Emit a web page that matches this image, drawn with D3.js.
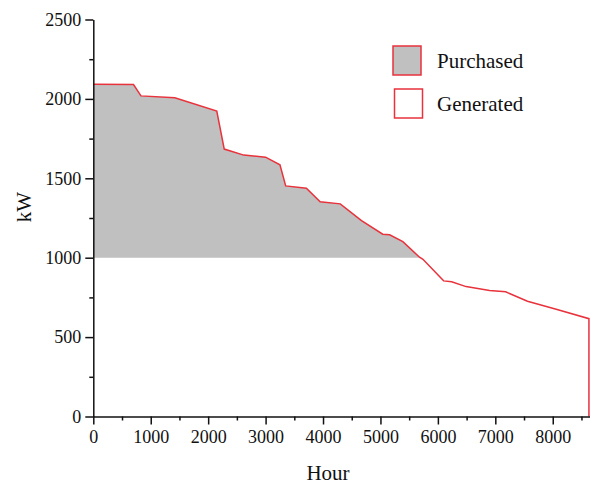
<!DOCTYPE html>
<html>
<head>
    <title>Purchased vs generated load</title>
    <script src="https://cdnjs.cloudflare.com/ajax/libs/d3/7.8.5/d3.min.js"></script>
    <style>
        body { margin: 0; background: #fff; }
        text { font-family: "Liberation Serif", "Times New Roman", serif; fill: #111; }
    </style>
</head>
<body>
    <div id="vis"></div>

    <script>
        // load duration curve
        var hours = [0, 700, 830, 1420, 2150, 2280, 2620, 3000, 3250, 3350, 3710, 3950, 4300,
                     4670, 5040, 5160, 5390, 5680, 5740, 6100, 6240, 6490, 6900, 7180, 7560, 8060, 8630];
        var loadKW = [2092, 2090, 2019, 2007, 1923, 1684, 1646, 1633, 1585, 1452, 1438, 1352, 1339,
                      1234, 1148, 1144, 1101, 1003, 990, 854, 849, 818, 793, 785, 726, 675, 616];
        var generatedCap = 1000;
        var xTicks = [0, 1000, 2000, 3000, 4000, 5000, 6000, 7000, 8000];
        var xMinor = [500, 1500, 2500, 3500, 4500, 5500, 6500, 7500, 8500];
        var yTicks = [0, 500, 1000, 1500, 2000, 2500];
        var yMinor = [250, 750, 1250, 1750, 2250];
        var legendNames = ["Purchased", "Generated"];
        var legendFills = ["#c0c0c0", "#ffffff"];

        var W = 590, H = 485;
        var red = "#e8323c";

        var svg = d3.select("#vis").append("svg")
            .attr("width", W)
            .attr("height", H);

        var x = d3.scaleLinear().domain([0, 8640]).range([93.3, 589.5]);
        var y = d3.scaleLinear().domain([0, 2500]).range([416.5, 19.5]);

        var pts = hours.map(function(h, i) { return [h, loadKW[i]]; });

        // purchased part = everything above the generated cap
        var area = d3.area()
            .x(function(d) { return x(d[0]); })
            .y0(y(generatedCap))
            .y1(function(d) { return y(Math.max(d[1], generatedCap)); });

        svg.append("path")
            .datum(pts)
            .attr("d", area)
            .style("fill", "#c0c0c0");

        var line = d3.line()
            .x(function(d) { return x(d[0]); })
            .y(function(d) { return y(d[1]); });

        var outline = pts.concat([[hours[hours.length - 1], 0]]);
        svg.append("path")
            .datum(outline)
            .attr("d", line)
            .style("fill", "none")
            .style("stroke", red)
            .style("stroke-width", 1.5);

        // axes
        function styleAxis(g) {
            g.selectAll("path, line").style("stroke", "#111").style("stroke-width", 1.5);
            g.selectAll("text").style("font-size", "18px").style("font-family", "Liberation Serif");
        }

        svg.append("g")
            .attr("transform", "translate(0," + y(0) + ")")
            .call(d3.axisBottom(x).tickValues(xMinor).tickSize(4).tickSizeOuter(0).tickFormat(""))
            .call(styleAxis)
            .select(".domain").remove();

        svg.append("g")
            .attr("transform", "translate(" + x(0) + ",0)")
            .call(d3.axisLeft(y).tickValues(yMinor).tickSize(4).tickSizeOuter(0).tickFormat(""))
            .call(styleAxis)
            .select(".domain").remove();

        svg.append("g")
            .attr("transform", "translate(0," + y(0) + ")")
            .call(d3.axisBottom(x).tickValues(xTicks).tickSize(8).tickSizeOuter(0).tickPadding(6).tickFormat(d3.format("d")))
            .call(styleAxis);

        svg.append("g")
            .attr("transform", "translate(" + x(0) + ",0)")
            .call(d3.axisLeft(y).tickValues(yTicks).tickSize(8).tickSizeOuter(0).tickPadding(4).tickFormat(d3.format("d")))
            .call(styleAxis);

        // axis titles
        svg.append("text")
            .attr("x", 328)
            .attr("y", 480)
            .attr("text-anchor", "middle")
            .style("font-size", "21px")
            .text("Hour");

        svg.append("text")
            .attr("transform", "translate(31,207) rotate(-90)")
            .attr("text-anchor", "middle")
            .style("font-size", "21px")
            .text("kW");

        // legend
        var leg = svg.append("g");
        legendNames.forEach(function(name, i) {
            leg.append("rect")
                .attr("x", 393 + i * 1.5)
                .attr("y", 46 + i * 43)
                .attr("width", 28)
                .attr("height", 29)
                .style("fill", legendFills[i])
                .style("stroke", red)
                .style("stroke-width", 1.5);
            leg.append("text")
                .attr("x", 437)
                .attr("y", 68 + i * 43)
                .style("font-size", "21px")
                .text(name);
        });
    </script>
</body>
</html>
